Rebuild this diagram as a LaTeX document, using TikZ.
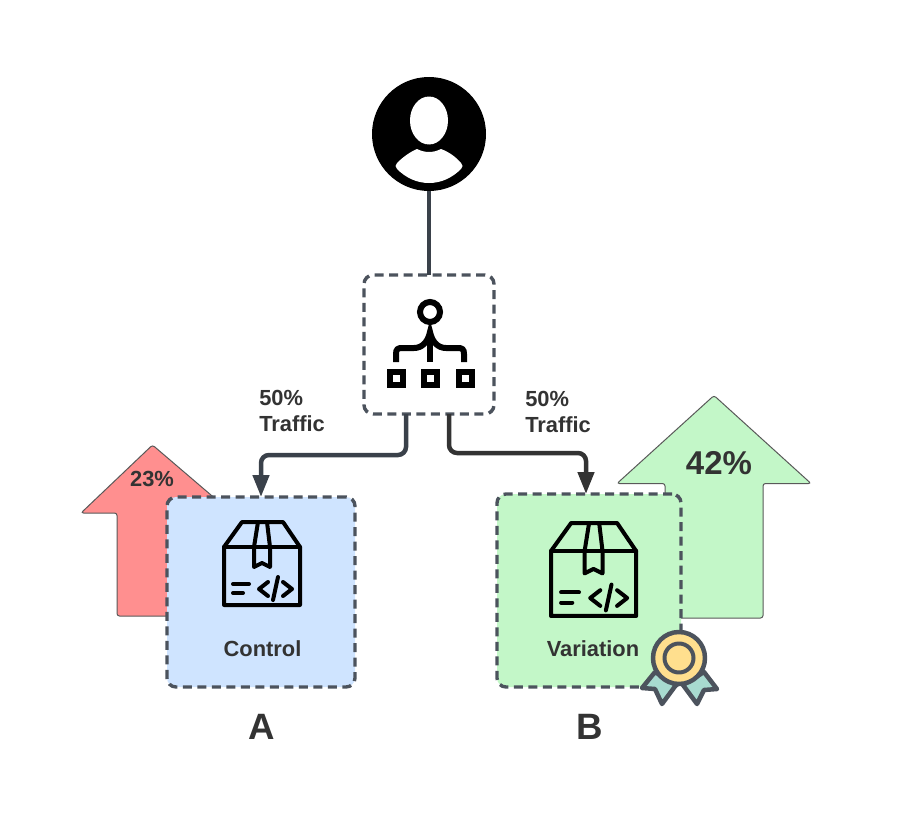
\documentclass[tikz,border=0pt]{standalone}
\usepackage{fontspec}
\setmainfont{Liberation Sans}
\usetikzlibrary{arrows.meta,calc}
\definecolor{stk}{HTML}{4C535D}
\definecolor{lnk}{HTML}{3A414A}
\definecolor{lnkb}{HTML}{333333}
\definecolor{txt}{HTML}{333333}
\definecolor{redf}{HTML}{FF8F8F}
\definecolor{grnf}{HTML}{C3F7C8}
\definecolor{bluf}{HTML}{CFE4FF}
\definecolor{medal}{HTML}{FFDF8E}
\definecolor{ribbon}{HTML}{A8DBD0}
\def\pxu{0.75pt}
\tikzset{
  x=0.75pt,y=-0.75pt,
  dashbox/.style={draw=stk,line width=3.4*\pxu,dash pattern=on 9*\pxu off 5.5*\pxu,rounded corners=9*\pxu,inner sep=0pt,outer sep=0pt},
  bigarrow/.style={draw=black!65,line width=1*\pxu,rounded corners=2.5*\pxu},
  conn/.style={line width=4.5*\pxu,rounded corners=8*\pxu,-{Triangle[length=22*\pxu,width=16*\pxu]}},
  label/.style={font=\fontsize{16.4pt}{20pt}\selectfont\bfseries,text=txt,inner sep=0pt},
  iconline/.style={line width=4*\pxu,draw=black,line cap=round,line join=round},
  netline/.style={line width=6*\pxu,draw=black},
  codebox/.pic={
    \draw[iconline] (0,25) -- (18,0) -- (59,0) -- (76,25) -- (76,83) -- (0,83) -- cycle;
    \draw[iconline] (0,25) -- (76,25);
    \draw[iconline] (34,0) -- (30,25) -- (30,45) -- (38,41) -- (46,45) -- (46,25) -- (43,0);
    \draw[iconline] (9,62) -- (25,62);
    \draw[iconline] (9,71) -- (19,71);
    \draw[iconline] (44,60) -- (35,67) -- (44,74);
    \draw[iconline] (59,60) -- (68,67) -- (59,74);
    \draw[iconline] (54,55) -- (49,78);
  }
}
\begin{document}
\begin{tikzpicture}
\useasboundingbox (0,0) rectangle (906,817);
% big arrows
\draw[bigarrow,fill=redf] (152.5,445) -- (81,513) -- (117,513) -- (117,616) -- (235,616) -- (235,513) -- (232,513) -- cycle;
\draw[bigarrow,fill=grnf] (714,395.5) -- (617,483.5) -- (665,483.5) -- (665,618) -- (763,618) -- (763,483.5) -- (811,483.5) -- cycle;
% user
\node[circle,fill=black,minimum size=114*\pxu,inner sep=0pt,outer sep=0pt] (user) at (429,134) {};
\fill[white] (429,120.5) ellipse [x radius=19,y radius=24];
\fill[white] (397,163) .. controls (403,157) and (410,152) .. (417,149) .. controls (425,153) and (433,153) .. (441,149) .. controls (449,152) and (456,157) .. (461,163) .. controls (463,165) and (463,167) .. (461,169) .. controls (452,178) and (441,183) .. (429,183) .. controls (417,183) and (406,178) .. (397,169) .. controls (395,167) and (395,165) .. (397,163) -- cycle;
% boxes
\node[dashbox,fill=white,minimum width=130*\pxu,minimum height=139*\pxu] (split) at (429,344.5) {};
\node[dashbox,fill=bluf,minimum width=188*\pxu,minimum height=190*\pxu] (control) at (261,592) {};
\node[dashbox,fill=grnf,minimum width=184*\pxu,minimum height=193*\pxu] (variation) at (589,590.5) {};
% connectors
\coordinate (lbend) at (330,455);
\coordinate (rbend) at (520,453);
\draw[line width=4.5*\pxu,draw=lnk] (user.south) -- (split.north);
\draw[conn,draw=lnk] ([xshift=-17.25pt]split.south) |- (lbend) -| (control.north);
\draw[conn,draw=lnkb] ([xshift=15pt]split.south) |- (rbend) -| ([xshift=-2.25pt]variation.north);
% network icon
\draw[netline] (430,312) circle [radius=10];
\draw[netline] (430,331) -- (430,362);
\draw[netline] (396,362) -- (396,354) .. controls (396,349) and (398,348) .. (402,348) -- (414,348) .. controls (422,348) and (428,342) .. (430,332) .. controls (432,342) and (438,348) .. (446,348) -- (458,348) .. controls (462,348) and (464,349) .. (464,354) -- (464,362);
\draw[netline] (389.5,371.5) rectangle (402.5,384.5);
\draw[netline] (423.5,371.5) rectangle (436.5,384.5);
\draw[netline] (458.5,371.5) rectangle (471.5,384.5);
% box icons
\pic at (224,522) {codebox};
\pic[scale=1.12] at (551,523) {codebox};
% medal
\begin{scope}[draw=stk,line width=4.5*\pxu,line join=round]
\draw[fill=ribbon] (655,672) -- (642,688) -- (655,689) -- (662,704) -- (676,685) -- cycle;
\draw[fill=ribbon] (704,672) -- (717,689) -- (704,690) -- (697,704) -- (683,685) -- cycle;
\node[circle,draw=stk,fill=medal,line width=4.5*\pxu,minimum size=52*\pxu,inner sep=0pt] (medalo) at (679,658) {};
\node[circle,draw=stk,fill=medal,line width=4*\pxu,minimum size=29*\pxu,inner sep=0pt] (medali) at (679,658) {};
\end{scope}
% labels
\node[label] (t23) at (152,479) {23\%};
\node[label,font=\fontsize{24.75pt}{28pt}\selectfont\bfseries] (t42) at (719,463) {42\%};
\node[label] (tc) at (262.5,649) {Control};
\node[label] (tv) at (593,649) {Variation};
\node[label,align=left,anchor=north west,font=\fontsize{16.4pt}{19.6pt}\selectfont\bfseries] (tl) at (259,389.5) {50\%\\Traffic};
\node[label,align=left,anchor=north west,font=\fontsize{16.4pt}{19.6pt}\selectfont\bfseries] (tr) at (525,390.5) {50\%\\Traffic};
\node[label,font=\fontsize{27.5pt}{30pt}\selectfont\bfseries] (ta) at (262,727) {A};
\node[label,font=\fontsize{27.5pt}{30pt}\selectfont\bfseries] (tb) at (590,727) {B};
\end{tikzpicture}
\end{document}
